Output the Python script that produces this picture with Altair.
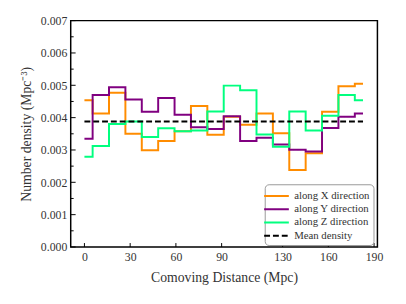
import altair as alt
import pandas as pd

# ---- data ----
step = 10.75
n_bins = 18
x_pos = [k * step for k in range(n_bins)]

along_x = [0.00454, 0.00413, 0.00477, 0.00350, 0.00299, 0.00328, 0.00358, 0.00436, 0.00347,
           0.00403, 0.00378, 0.00413, 0.00352, 0.00238, 0.00290, 0.00418, 0.00497, 0.00505]
along_y = [0.00335, 0.00470, 0.00494, 0.00456, 0.00418, 0.00461, 0.00409, 0.00370, 0.00365,
           0.00404, 0.00328, 0.00338, 0.00317, 0.00301, 0.00295, 0.00368, 0.00403, 0.00413]
along_z = [0.00279, 0.00312, 0.00380, 0.00388, 0.00340, 0.00367, 0.00358, 0.00360, 0.00419,
           0.00499, 0.00485, 0.00348, 0.00310, 0.00419, 0.00360, 0.00406, 0.00470, 0.00454]
mean_density = 0.00388

series_names = ["along X direction", "along Y direction", "along Z direction", "Mean density"]
series_colors = ["#ff8c00", "#800080", "#00ff7f", "#000000"]
series_dash = [[1, 0], [1, 0], [1, 0], [6, 3]]

x_ticks = [0, 30, 60, 90, 130, 160, 190]
y_ticks = [0.000, 0.001, 0.002, 0.003, 0.004, 0.005, 0.006, 0.007]
y_minor = [0.0005, 0.0015, 0.0025, 0.0035, 0.0045, 0.0055, 0.0065]

rows = []
for name, vals in zip(series_names[:3], [along_x, along_y, along_z]):
    for xv, yv in zip(x_pos, vals):
        rows.append({"x": xv, "y": yv, "series": name})
rows.append({"x": x_pos[0], "y": mean_density, "series": "Mean density"})
rows.append({"x": x_pos[-1], "y": mean_density, "series": "Mean density"})
df = pd.DataFrame(rows)

W, H = 313, 231
FONT = "Liberation Serif"
TXT = "#333333"

xscale = alt.Scale(domain=[-9, 192.2], nice=False, zero=False)
yscale = alt.Scale(domain=[0, 0.007], nice=False, zero=True)

x_axis = alt.Axis(values=x_ticks, ticks=False, grid=False, domain=False,
                  labelOverlap=False,
                  title="Comoving Distance (Mpc)", labelPadding=5, titlePadding=8)
y_axis = alt.Axis(values=y_ticks, format=".3f", ticks=False, grid=False, domain=False,
                  labelOverlap=False,
                  title="Number density (Mpc⁻³)", labelPadding=4, titlePadding=7)

legend_kw = dict(title=None, orient="none", legendX=198, legendY=167,
                 symbolType="M-1.8,0H1.8", symbolStrokeWidth=2,
                 symbolSize=196, labelFont=FONT, labelFontSize=11,
                 labelColor=TXT, strokeColor="#999999",
                 fillColor="white", cornerRadius=4, padding=4,
                 rowPadding=0.5, labelOffset=10)

lines = alt.Chart(df).mark_line(interpolate="step", strokeWidth=2).encode(
    x=alt.X("x:Q", scale=xscale, axis=x_axis),
    y=alt.Y("y:Q", scale=yscale, axis=y_axis),
    color=alt.Color("series:N", scale=alt.Scale(domain=series_names, range=series_colors),
                    legend=alt.Legend(**legend_kw)),
    strokeDash=alt.StrokeDash("series:N",
                              scale=alt.Scale(domain=series_names, range=series_dash),
                              legend=alt.Legend(**legend_kw)),
    order=alt.Order("series:N"),
)

xt = alt.Chart(pd.DataFrame({"t": x_ticks})).mark_rule(color="black", strokeWidth=1).encode(
    x=alt.X("t:Q", scale=xscale, axis=x_axis), y=alt.value(H), y2=alt.value(H - 4))
yt = alt.Chart(pd.DataFrame({"t": y_ticks})).mark_rule(color="black", strokeWidth=1).encode(
    y=alt.Y("t:Q", scale=yscale, axis=y_axis), x=alt.value(0), x2=alt.value(5))
ym = alt.Chart(pd.DataFrame({"t": y_minor})).mark_rule(color="black", strokeWidth=1).encode(
    y=alt.Y("t:Q", scale=yscale, axis=y_axis), x=alt.value(0), x2=alt.value(3))

chart = alt.layer(lines, xt, yt, ym).properties(
    width=W, height=H,
    autosize=alt.AutoSizeParams(type="none"),
    padding={"left": 64, "top": 10, "right": 21, "bottom": 40},
).configure_view(stroke="black", strokeWidth=1.5).configure_axis(
    labelFont=FONT, labelFontSize=12, labelColor=TXT,
    titleFont=FONT, titleFontSize=14, titleColor=TXT, titleFontWeight="normal",
)

chart.save("out.html", embed_options={"renderer": "svg", "actions": False})
